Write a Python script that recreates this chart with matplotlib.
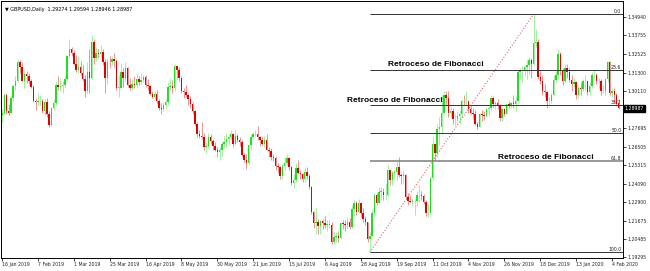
import numpy as np
import matplotlib.pyplot as plt

# GBPUSD daily candles, 16 Jan 2019 - 7 Feb 2020 (prices x 10000)
opens = [12855, 12870, 12990, 12880, 12870, 12970, 13045, 13075, 13200, 13170, 13080, 13125, 13110, 13075, 13040, 12950,
         12940, 12945, 12950, 12885, 12940, 12860, 12790, 12900, 12935, 13050, 13040, 13045, 13050, 13090, 13240, 13290,
         13260, 13190, 13150, 13170, 13130, 13090, 13010, 13140, 13095, 13330, 13230, 13260, 13255, 13265, 13205, 13100,
         13205, 13200, 13225, 13210, 13035, 13035, 13140, 13100, 13160, 13055, 13035, 13060, 13050, 13090, 13070, 13085,
         13105, 13055, 13045, 12995, 12975, 12995, 12945, 12905, 12895, 12920, 12940, 13040, 13045, 13035, 13175, 13150,
         13095, 13015, 13005, 12990, 12960, 12925, 12885, 12795, 12730, 12720, 12715, 12650, 12655, 12710, 12685, 12655,
         12630, 12615, 12630, 12670, 12680, 12700, 12715, 12735, 12665, 12720, 12690, 12680, 12595, 12565, 12540, 12660,
         12715, 12730, 12735, 12710, 12690, 12670, 12695, 12630, 12620, 12580, 12575, 12525, 12515, 12460, 12525, 12545,
         12575, 12515, 12415, 12430, 12510, 12480, 12470, 12440, 12485, 12455, 12385, 12220, 12150, 12155, 12130, 12165,
         12150, 12140, 12140, 12140, 12030, 12060, 12065, 12055, 12150, 12145, 12140, 12160, 12125, 12240, 12285, 12225,
         12285, 12215, 12175, 12155, 12045, 12065, 12215, 12335, 12285, 12355, 12355, 12335, 12335, 12495, 12430, 12480,
         12485, 12515, 12465, 12455, 12465, 12320, 12295, 12290, 12295, 12295, 12335, 12335, 12330, 12290, 12215, 12215,
         12445, 12665, 12610, 12765, 12775, 12870, 12985, 12965, 12870, 12885, 12830, 12830, 12850, 12860, 12950, 12945,
         12945, 12895, 12870, 12860, 12795, 12775, 12860, 12855, 12850, 12895, 12905, 12970, 12925, 12935, 12920, 12835,
         12895, 12865, 12925, 12920, 12935, 12925, 12950, 13135, 13145, 13150, 13170, 13180, 13215, 13190, 13325, 13335,
         13105, 13080, 13015, 13005, 12945, 12950, 12990, 13085, 13115, 13255, 13145, 13080, 13165, 13135, 13085, 13060,
         13070, 12990, 13030, 13025, 13075, 13075, 13005, 13045, 13115, 13120, 13075, 13075, 13010, 13015, 13090, 13205,
         13000, 13015, 12990, 12927]
highs = [12895, 13000, 13000, 12930, 12990, 13050, 13110, 13220, 13215, 13200, 13150, 13145, 13130, 13090, 13050, 12970,
         13000, 12990, 12960, 12960, 12970, 12880, 12910, 12960, 13075, 13110, 13095, 13080, 13110, 13250, 13350, 13300,
         13280, 13245, 13240, 13210, 13180, 13120, 13200, 13290, 13380, 13350, 13300, 13290, 13310, 13290, 13220, 13230,
         13240, 13240, 13260, 13220, 13120, 13195, 13165, 13200, 13170, 13100, 13090, 13110, 13125, 13110, 13130, 13120,
         13120, 13090, 13050, 13010, 13010, 13020, 12960, 12935, 12940, 12960, 13070, 13100, 13085, 13180, 13175, 13170,
         13110, 13030, 13050, 13000, 12980, 12940, 12890, 12810, 12760, 12810, 12740, 12680, 12740, 12735, 12700, 12680,
         12645, 12650, 12680, 12720, 12740, 12730, 12760, 12740, 12760, 12735, 12710, 12690, 12610, 12600, 12670, 12730,
         12745, 12760, 12785, 12720, 12720, 12720, 12730, 12650, 12640, 12600, 12590, 12540, 12525, 12540, 12580, 12600,
         12580, 12525, 12470, 12540, 12560, 12495, 12480, 12520, 12520, 12470, 12390, 12230, 12250, 12180, 12170, 12180,
         12200, 12170, 12170, 12160, 12095, 12095, 12100, 12160, 12170, 12170, 12190, 12185, 12270, 12300, 12295, 12310,
         12290, 12250, 12200, 12160, 12095, 12235, 12350, 12350, 12385, 12385, 12380, 12410, 12530, 12500, 12490, 12500,
         12550, 12580, 12480, 12500, 12470, 12345, 12335, 12315, 12310, 12360, 12400, 12360, 12340, 12300, 12275, 12450,
         12710, 12670, 12800, 12840, 12990, 13010, 13015, 13010, 12910, 12900, 12860, 12880, 12890, 12960, 12990, 13010,
         12950, 12920, 12900, 12890, 12810, 12870, 12890, 12880, 12905, 12915, 12985, 12980, 12950, 12960, 12930, 12900,
         12905, 12930, 12945, 12940, 12985, 12980, 13155, 13165, 13175, 13180, 13215, 13235, 13230, 13514, 13415, 13350,
         13150, 13115, 13060, 13010, 12975, 13000, 13120, 13145, 13285, 13265, 13160, 13190, 13190, 13160, 13120, 13100,
         13080, 13050, 13070, 13090, 13120, 13080, 13070, 13140, 13150, 13130, 13100, 13090, 13050, 13100, 13210, 13210,
         13035, 13030, 13000, 12959]
lows = [12810, 12860, 12860, 12855, 12860, 12950, 13020, 13070, 13130, 13080, 13030, 13065, 13050, 13030, 12940, 12890,
        12920, 12920, 12870, 12855, 12840, 12775, 12785, 12890, 12920, 13020, 13010, 13000, 13035, 13080, 13230, 13240,
        13180, 13140, 13130, 13120, 13080, 12975, 13000, 13000, 13090, 13190, 13210, 13230, 13235, 13180, 13000, 13060,
        13160, 13185, 13170, 13020, 12975, 13030, 13040, 13080, 13040, 13020, 13020, 13030, 13030, 13050, 13060, 13070,
        13040, 13020, 12985, 12970, 12960, 12930, 12890, 12865, 12880, 12900, 12920, 13020, 13000, 13010, 13090, 13080,
        13000, 12970, 12975, 12920, 12905, 12860, 12785, 12710, 12705, 12700, 12625, 12605, 12640, 12670, 12630, 12620,
        12580, 12560, 12590, 12640, 12650, 12660, 12690, 12650, 12660, 12680, 12655, 12590, 12550, 12505, 12530, 12630,
        12700, 12720, 12690, 12655, 12660, 12650, 12625, 12580, 12560, 12555, 12500, 12480, 12440, 12440, 12500, 12530,
        12500, 12400, 12380, 12420, 12470, 12440, 12420, 12420, 12440, 12370, 12210, 12120, 12080, 12080, 12080, 12110,
        12120, 12100, 12120, 12015, 12015, 12030, 12030, 12050, 12110, 12100, 12120, 12110, 12120, 12200, 12205, 12215,
        12190, 12160, 12140, 12030, 11960, 12060, 12200, 12270, 12280, 12300, 12300, 12300, 12330, 12400, 12400, 12440,
        12430, 12450, 12405, 12415, 12310, 12270, 12280, 12270, 12205, 12265, 12290, 12300, 12275, 12195, 12190, 12210,
        12435, 12560, 12580, 12660, 12740, 12860, 12920, 12840, 12840, 12800, 12790, 12810, 12800, 12840, 12920, 12920,
        12870, 12860, 12830, 12790, 12765, 12775, 12815, 12825, 12840, 12850, 12890, 12910, 12895, 12895, 12820, 12820,
        12850, 12860, 12900, 12905, 12900, 12880, 12945, 13085, 13070, 13110, 13090, 13120, 13100, 13180, 13300, 13090,
        13060, 12990, 12975, 12905, 12920, 12935, 12980, 13070, 13100, 13120, 13050, 13070, 13100, 13070, 13010, 13040,
        12960, 12970, 12990, 13010, 13020, 12990, 12990, 13030, 13100, 13060, 13030, 12990, 13000, 12990, 13070, 12985,
        12975, 12935, 12915, 12895]
closes = [12870, 12990, 12880, 12870, 12970, 13045, 13075, 13200, 13170, 13080, 13125, 13110, 13075, 13040, 12950, 12940,
          12945, 12950, 12885, 12940, 12860, 12790, 12900, 12935, 13050, 13040, 13045, 13050, 13090, 13240, 13290, 13260,
          13190, 13150, 13170, 13130, 13090, 13010, 13140, 13095, 13330, 13230, 13260, 13255, 13265, 13205, 13100, 13205,
          13200, 13225, 13210, 13035, 13035, 13140, 13100, 13160, 13055, 13035, 13060, 13050, 13090, 13070, 13085, 13105,
          13055, 13045, 12995, 12975, 12995, 12945, 12905, 12895, 12920, 12940, 13040, 13045, 13035, 13175, 13150, 13095,
          13015, 13005, 12990, 12960, 12925, 12885, 12795, 12730, 12720, 12715, 12650, 12655, 12710, 12685, 12655, 12630,
          12615, 12630, 12670, 12680, 12700, 12715, 12735, 12665, 12720, 12690, 12680, 12595, 12565, 12540, 12660, 12715,
          12730, 12735, 12710, 12690, 12670, 12695, 12630, 12620, 12580, 12575, 12525, 12515, 12460, 12525, 12545, 12575,
          12515, 12415, 12430, 12510, 12480, 12470, 12440, 12485, 12455, 12385, 12220, 12150, 12155, 12130, 12165, 12150,
          12140, 12140, 12140, 12030, 12060, 12065, 12055, 12150, 12145, 12140, 12160, 12125, 12240, 12285, 12225, 12285,
          12215, 12175, 12155, 12045, 12065, 12215, 12335, 12285, 12355, 12355, 12335, 12335, 12495, 12430, 12480, 12485,
          12515, 12465, 12455, 12465, 12320, 12295, 12290, 12295, 12295, 12335, 12335, 12330, 12290, 12215, 12215, 12445,
          12665, 12610, 12765, 12775, 12870, 12985, 12965, 12870, 12885, 12830, 12830, 12850, 12860, 12950, 12945, 12945,
          12895, 12870, 12860, 12795, 12775, 12860, 12855, 12850, 12895, 12905, 12970, 12925, 12935, 12920, 12835, 12895,
          12865, 12925, 12920, 12935, 12925, 12950, 13135, 13145, 13150, 13170, 13180, 13215, 13190, 13325, 13335, 13105,
          13080, 13015, 13005, 12945, 12950, 12990, 13085, 13115, 13255, 13145, 13080, 13165, 13135, 13085, 13060, 13070,
          12990, 13030, 13025, 13075, 13075, 13005, 13045, 13115, 13120, 13075, 13075, 13010, 13015, 13090, 13205, 13000,
          13015, 12990, 12925, 12899]

# last bar quote as shown in the header (O H L C)
last_quote = [1.29274, 1.29594, 1.28946, 1.28987]

date_labels = ['16 Jan 2019', '7 Feb 2019', '1 Mar 2019', '25 Mar 2019', '16 Apr 2019', '8 May 2019', '30 May 2019',
               '21 Jun 2019', '15 Jul 2019', '6 Aug 2019', '28 Aug 2019', '19 Sep 2019', '11 Oct 2019', '4 Nov 2019',
               '26 Nov 2019', '18 Dec 2019', '13 Jan 2020', '4 Feb 2020']
price_ticks = [1.34940, 1.33755, 1.32525, 1.31300, 1.30110, 1.27695, 1.26505, 1.25315, 1.24090, 1.22900,
               1.21675, 1.20485, 1.19295]
fib_ratios = [0.0, 23.6, 38.2, 50.0, 61.8, 100.0]
fib_low_bar = 164   # 3 Sep 2019
fib_high_bar = 237  # 13 Dec 2019

o = np.array(opens) / 10000
h = np.array(highs) / 10000
l = np.array(lows) / 10000
c = np.array(closes) / 10000
x = np.arange(len(c))

ymin, ymax = 1.19228, 1.36004

fig = plt.figure(figsize=(6.5, 2.71), dpi=100)
ax = fig.add_axes([1 / 650, 13 / 271, 622 / 650, 257 / 271])

up = c >= o
bull = '#1ee01e'
bear = '#e00000'
cols = np.where(up, bull, bear)
ax.vlines(x, l, h, colors=cols, linewidth=0.6, alpha=0.5)
body = np.maximum(np.abs(c - o), 0.0002)
ax.bar(x, body, bottom=np.minimum(o, c), width=0.65, color=cols, linewidth=0)

# Fibonacci retracement
lo = l[fib_low_bar]
hi = h[fib_high_bar]
xr = 276.9
for r in fib_ratios:
    lev = hi - r / 100 * (hi - lo)
    if r == 61.8:
        ax.hlines(lev, fib_low_bar, xr, color='#888888', linewidth=1.2)
    else:
        ax.hlines(lev, fib_low_bar, xr, color='#333333', linewidth=0.7)
    ax.text(276.2, lev + 0.0004, '%.1f' % r, fontsize=3.3, ha='right', va='bottom', color='#222222')
ax.plot([fib_low_bar, fib_high_bar], [lo, hi], linestyle=(0, (1, 2)), color='#e04040', linewidth=0.7)

for tx, ty in [(172.1, 1.3183), (153.8, 1.2948), (221.1, 1.2582)]:
    ax.text(tx, ty, 'Retroceso de Fibonacci', fontsize=6.0, fontweight='bold', family='Liberation Sans',
            va='center', ha='left')

ax.set_xlim(-0.45, xr)
ax.set_ylim(ymin, ymax)

ax.yaxis.tick_right()
ax.set_yticks(price_ticks)
ax.set_yticklabels(['%.5f' % p for p in price_ticks])
ax.set_xticks(np.arange(0, 16 * len(date_labels), 16))
ax.set_xticklabels(date_labels, ha='left')
ax.tick_params(axis='both', labelsize=3.3, length=2, width=0.6, pad=1, colors='#222222')
for s in ax.spines.values():
    s.set_linewidth(0.7)

# current price box
ax.text(1.003, (last_quote[3] - ymin) / (ymax - ymin), '%.5f' % last_quote[3], transform=ax.transAxes,
        fontsize=3.3, color='white', va='center', ha='left',
        bbox=dict(boxstyle='square,pad=0.25', fc='black', ec='black'))

header = '\u25bc GBPUSD,Daily  ' + ' '.join('%.5f' % v for v in last_quote)
fig.text(5 / 650, 1 - 9 / 271, header, fontsize=3.5, va='center')

fig.savefig('out.png', dpi=100)
